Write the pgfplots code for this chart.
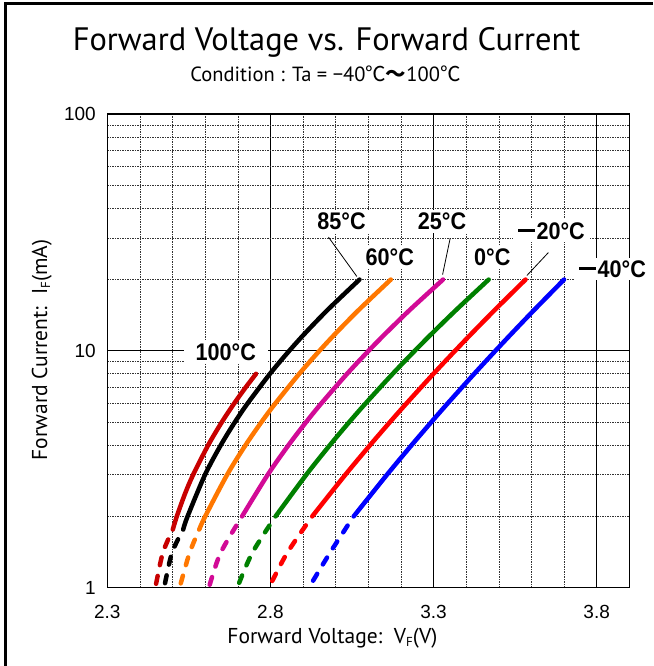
\documentclass[border=0pt]{standalone}
\usepackage{pgfplots}
\pgfplotsset{compat=1.18}
\usepackage{fontspec}
\setmainfont{Liberation Sans}
\newfontfamily\titlefont{PT Sans}
\newfontfamily\cjk{Noto Sans CJK JP}
\newfontfamily\lblfont[FakeStretch=0.9]{Liberation Sans}
\definecolor{cdred}{RGB}{200,0,0}
\definecolor{corange}{RGB}{255,119,0}
\definecolor{cmag}{RGB}{210,10,150}
\definecolor{cgreen}{RGB}{0,128,0}
\definecolor{cred}{RGB}{255,0,0}
\definecolor{cblue}{RGB}{0,0,255}
\newcommand{\mdash}{\rule[7pt]{17pt}{3pt}\hspace{1.5pt}}
\tikzset{
  sol/.style={line width=4.5pt, line cap=round, smooth},
  dsh/.style={line width=4.5pt, line cap=round, smooth, dash pattern=on 8pt off 11pt, dash phase=8pt},
  lbl/.style={fill=white, inner xsep=5pt, inner ysep=3pt, font=\lblfont\bfseries\fontsize{24}{24}\selectfont},
}
\begin{document}
\begin{tikzpicture}[x=1pt,y=1pt]
\path[use as bounding box] (0,0) rectangle (653,666);
\draw[line width=2.5pt] (5.5,0) -- (5.5,662.5) -- (653,662.5);
\node[anchor=base, font=\titlefont\fontsize{32.4}{32.4}\selectfont] at (326.5,615.3) {Forward Voltage vs. Forward Current};
\node[anchor=base, font=\titlefont\fontsize{20.5}{20.5}\selectfont] at (325.5,584.3) {Condition : Ta = −40{\cjk ℃}{\cjk\bfseries ～}100{\cjk ℃}};
\node[anchor=base, font=\titlefont\fontsize{21.5}{21.5}\selectfont] at (332.5,23) {Forward Voltage:\ \ V\raisebox{-3pt}{\fontsize{13}{13}\selectfont F}(V)};
\node[anchor=base, rotate=90, font=\titlefont\fontsize{21.5}{21.5}\selectfont] at (47,316) {Forward Current:\ \ I\raisebox{-3pt}{\fontsize{13}{13}\selectfont F}(mA)};
\begin{axis}[at={(107.3pt,78.3pt)}, anchor=south west, scale only axis,
  width=522pt, height=473.7pt,
  ymode=log, xmin=2.3, xmax=3.9, ymin=1, ymax=100,
  xtick={2.3,2.8,3.3,3.8}, xticklabels={2.3,2.8,3.3,3.8},
  minor xtick={2.4,2.5,2.6,2.7,2.9,3.0,3.1,3.2,3.4,3.5,3.6,3.7},
  ytick={1,10,100}, yticklabels={1,10,100},
  minor ytick={2,3,4,5,6,7,8,9,20,30,40,50,60,70,80,90},
  grid=both,
  major grid style={black, line width=0.7pt},
  minor grid style={black!80, line width=0.6pt, dash pattern=on 1.5pt off 1pt},
  major tick length=0pt, minor tick length=0pt,
  axis line style={line width=1.3pt},
  tick label style={font=\fontsize{19}{19}\selectfont},
  /pgf/number format/assume math mode=true,
  xticklabel style={yshift=-14pt},
  yticklabel style={xshift=-8pt},
  clip mode=individual,
]
% 100 C
\addplot[cdred, dsh] coordinates {(2.5008,1.76) (2.470,1.4) (2.447,1) (2.438,0.9)};
\addplot[cdred, sol] coordinates {(2.5008,1.76) (2.513,2) (2.5385,2.5) (2.5632,3) (2.6093,4) (2.651,5) (2.689,6) (2.7238,7) (2.756,8)};
% 85 C
\addplot[black, dsh] coordinates {(2.5326,1.76) (2.498,1.4) (2.474,1) (2.466,0.9)};
\addplot[black, sol] coordinates {(2.5326,1.76) (2.546,2) (2.5996,3) (2.6479,4) (2.6910,5) (2.7301,6) (2.7986,8) (2.8576,10) (2.9095,12) (2.9777,15) (3.073,20)};
% 60 C
\addplot[corange, dsh] coordinates {(2.5817,1.76) (2.552,1.4) (2.5215,1) (2.512,0.9)};
\addplot[corange, sol] coordinates {(2.5817,1.76) (2.600,2) (2.6674,3) (2.7238,4) (2.7723,5) (2.8151,6) (2.8884,8) (2.9502,10) (3.0038,12) (3.0732,15) (3.169,20)};
% 25 C
\addplot[cmag, dsh] coordinates {(2.713,2) (2.647,1.4) (2.611,1) (2.601,0.9)};
\addplot[cmag, sol] coordinates {(2.713,2) (2.7919,3) (2.8555,4) (2.9093,5) (2.9560,6) (3.0350,8) (3.1007,10) (3.1572,12) (3.2298,15) (3.329,20)};
% 0 C
\addplot[cgreen, dsh] coordinates {(2.8156,2) (2.744,1.4) (2.698,1) (2.685,0.9)};
\addplot[cgreen, sol] coordinates {(2.8156,2) (2.9100,3) (2.9823,4) (3.0414,5) (3.0917,6) (3.1748,8) (3.2423,10) (3.2994,12) (3.3718,15) (3.469,20)};
% -20 C
\addplot[cred, dsh] coordinates {(2.928,2) (2.851,1.4) (2.795,1) (2.777,0.9)};
\addplot[cred, sol] coordinates {(2.928,2) (3.0298,3) (3.1055,4) (3.1662,5) (3.2171,6) (3.2997,8) (3.3658,10) (3.4210,12) (3.4903,15) (3.582,20)};
% -40 C
\addplot[cblue, dsh] coordinates {(3.055,2) (2.982,1.4) (2.918,1) (2.900,0.9)};
\addplot[cblue, sol] coordinates {(3.055,2) (3.1573,3) (3.2328,4) (3.2930,5) (3.3433,6) (3.4247,8) (3.4895,10) (3.5435,12) (3.6109,15) (3.700,20)};
% labels
\draw[line width=0.8pt] (axis cs:2.978,30.2) -- (axis cs:3.065,20.6);
\draw[line width=0.8pt] (axis cs:3.351,29.9) -- (axis cs:3.3277,21.0);
\draw[line width=0.8pt] (axis cs:3.652,26.0) -- (axis cs:3.586,20.8);
\node[lbl] at (axis cs:3.018,35.3) {85°C};
\node[lbl] at (axis cs:3.1657,24.9) {60°C};
\node[lbl] at (axis cs:3.3262,35.3) {25°C};
\node[lbl] at (axis cs:3.4799,24.9) {0°C};
\node[lbl] at (axis cs:3.6612,32.07) {\mdash20°C};
\node[lbl] at (axis cs:3.8486,22.16) {\mdash40°C};
\node[lbl, inner xsep=12pt] at (axis cs:2.6632,9.89) {100°C};
\end{axis}
\end{tikzpicture}
\end{document}
